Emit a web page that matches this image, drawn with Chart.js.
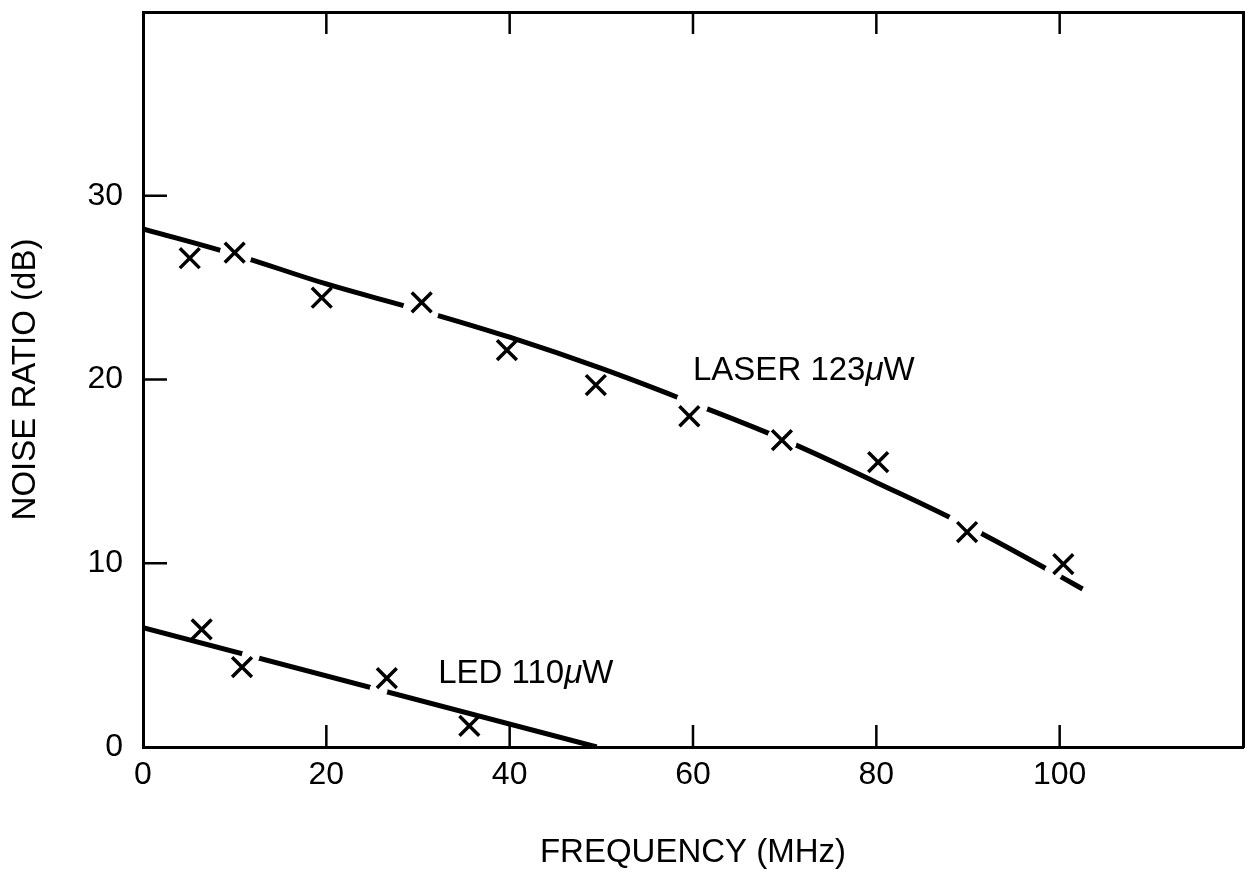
<!DOCTYPE html>
<html>
<head>
<meta charset="utf-8">
<title>Noise ratio vs frequency</title>
<script src="https://cdn.jsdelivr.net/npm/chart.js@4.4.1/dist/chart.umd.min.js"></script>
<style>
  html, body { margin: 0; padding: 0; background: #fff; }
  #wrap { width: 1248px; height: 873px; }
</style>
</head>
<body>
<div id="wrap"><canvas id="chart"></canvas></div>
<script>
const laserFreq  = [5.1, 10.0, 19.5, 30.4, 39.7, 49.4, 59.6, 69.7, 80.2, 89.9, 100.4];
const laserNoise = [26.6, 26.9, 24.45, 24.2, 21.6, 19.7, 18.0, 16.7, 15.5, 11.7, 9.95];
const ledFreq  = [6.4, 10.8, 26.6, 35.6];
const ledNoise = [6.4, 4.35, 3.75, 1.15];

// hand drawn fit curves
const laserFitFreq  = [0, 10, 20, 30, 40, 50, 60, 70, 80, 90, 100, 102.5];
const laserFitNoise = [28.2, 26.8, 25.2, 23.8, 22.3, 20.6, 18.7, 16.7, 14.4, 12.0, 9.3, 8.6];
const ledFitFreq  = [0, 49.5];
const ledFitNoise = [6.5, 0];

// places where the pen was lifted on the curves
const laserBreakFreq  = [10.1, 30.3, 59.9, 69.7, 89.7, 99.3];
const laserBreakNoise = [26.8, 23.75, 18.7, 16.7, 12.05, 9.5];
const ledBreakFreq  = [11.75, 25.7];
const ledBreakNoise = [4.96, 3.1];

const xTicks = [0, 20, 40, 60, 80, 100];
const yTicks = [0, 10, 20, 30];

// curve labels: text before the mu, anchor (freq, noise)
const curveLabels = ['LASER 123', 'LED 110'];
const curveLabelFreq = [60, 32.2];
const curveLabelNoise = [20, 3.5];

const FONT = "'Liberation Sans', Arial, Helvetica, sans-serif";
Chart.defaults.font.family = FONT;
Chart.defaults.color = '#000';

function pts(xs, ys) {
    return xs.map((v, i) => ({ x: v, y: ys[i] }));
}

// ticks in this figure point inwards, and the curves carry their own labels
const figureExtras = {
    id: 'figureExtras',
    afterDatasetsDraw(chart) {
        const { ctx, chartArea: a, scales: { x, y } } = chart;
        ctx.save();
        ctx.strokeStyle = '#000';
        ctx.lineWidth = 2.5;
        ctx.beginPath();
        xTicks.slice(1).forEach(v => {
            const px = x.getPixelForValue(v);
            ctx.moveTo(px, a.bottom);
            ctx.lineTo(px, a.bottom - 22);
            ctx.moveTo(px, a.top);
            ctx.lineTo(px, a.top + 22);
        });
        yTicks.slice(1).forEach(v => {
            const py = y.getPixelForValue(v);
            ctx.moveTo(a.left, py);
            ctx.lineTo(a.left + 24, py);
        });
        ctx.stroke();

        ctx.fillStyle = '#000';
        ctx.textBaseline = 'alphabetic';
        ctx.textAlign = 'left';
        curveLabels.forEach((t, i) => {
            let px = x.getPixelForValue(curveLabelFreq[i]);
            const py = y.getPixelForValue(curveLabelNoise[i]);
            ctx.font = '33px ' + FONT;
            ctx.fillText(t, px, py);
            px += ctx.measureText(t).width;
            ctx.font = 'italic 33px ' + FONT;
            ctx.fillText('\u03bc', px, py);
            px += ctx.measureText('\u03bc').width;
            ctx.font = '33px ' + FONT;
            ctx.fillText('W', px, py);
        });
        ctx.restore();
    }
};

const frame = { display: true, color: '#000', width: 3 };
const noGrid = { display: true, drawOnChartArea: false, drawTicks: false };

// fixed box sizes, and no extra room for labels hanging over the ends
function fixBox(w, h) {
    return s => {
        if (w !== null) s.width = w;
        if (h !== null) s.height = h;
        s.paddingLeft = s.paddingRight = s.paddingTop = s.paddingBottom = 0;
    };
}

new Chart(document.getElementById('chart'), {
    type: 'scatter',
    data: {
        datasets: [
            {
                label: 'laser fit',
                data: pts(laserFitFreq, laserFitNoise),
                showLine: true,
                tension: 0.4,
                borderColor: '#000',
                borderWidth: 5,
                pointRadius: 0,
                order: 3
            },
            {
                label: 'led fit',
                data: pts(ledFitFreq, ledFitNoise),
                showLine: true,
                borderColor: '#000',
                borderWidth: 5,
                pointRadius: 0,
                order: 3
            },
            {
                label: 'laser breaks',
                data: pts(laserBreakFreq, laserBreakNoise),
                pointStyle: 'circle',
                pointRadius: [16, 18, 16, 15, 18, 9],
                pointBackgroundColor: '#fff',
                pointBorderWidth: 0,
                order: 2
            },
            {
                label: 'led breaks',
                data: pts(ledBreakFreq, ledBreakNoise),
                pointStyle: 'circle',
                pointRadius: 9,
                pointBackgroundColor: '#fff',
                pointBorderWidth: 0,
                order: 2
            },
            {
                label: 'LASER 123\u03bcW',
                data: pts(laserFreq, laserNoise),
                pointStyle: 'crossRot',
                pointRadius: 14,
                pointBorderColor: '#000',
                pointBorderWidth: 3.5,
                order: 1
            },
            {
                label: 'LED 110\u03bcW',
                data: pts(ledFreq, ledNoise),
                pointStyle: 'crossRot',
                pointRadius: 14,
                pointBorderColor: '#000',
                pointBorderWidth: 3.5,
                order: 1
            }
        ]
    },
    options: {
        responsive: true,
        maintainAspectRatio: false,
        animation: false,
        events: [],
        layout: { padding: 0, autoPadding: false },
        plugins: { legend: { display: false }, tooltip: { enabled: false } },
        scales: {
            x: {
                type: 'linear',
                position: 'bottom',
                min: 0,
                max: 120,
                afterBuildTicks: s => { s.ticks = xTicks.map(v => ({ value: v })); },
                afterFit: fixBox(null, 126),
                ticks: { font: { size: 32 }, padding: 9, maxRotation: 0 },
                grid: noGrid,
                border: frame,
                title: {
                    display: true,
                    text: 'FREQUENCY (MHz)',
                    font: { size: 33 },
                    padding: { top: 0, bottom: 0 }
                }
            },
            y: {
                type: 'linear',
                position: 'left',
                min: 0,
                max: 40,
                afterBuildTicks: s => { s.ticks = yTicks.map(v => ({ value: v })); },
                afterFit: fixBox(143, null),
                ticks: { font: { size: 32 }, padding: 20 },
                grid: noGrid,
                border: frame,
                title: {
                    display: true,
                    text: 'NOISE RATIO (dB)',
                    font: { size: 33 },
                    padding: { top: 6, bottom: 0 }
                }
            },
            x2: {
                type: 'linear',
                position: 'top',
                min: 0,
                max: 120,
                afterFit: fixBox(null, 12),
                ticks: { display: false },
                grid: noGrid,
                border: frame
            },
            y2: {
                type: 'linear',
                position: 'right',
                min: 0,
                max: 40,
                afterFit: fixBox(5, null),
                ticks: { display: false },
                grid: noGrid,
                border: frame
            }
        }
    },
    plugins: [figureExtras]
});
</script>
</body>
</html>
